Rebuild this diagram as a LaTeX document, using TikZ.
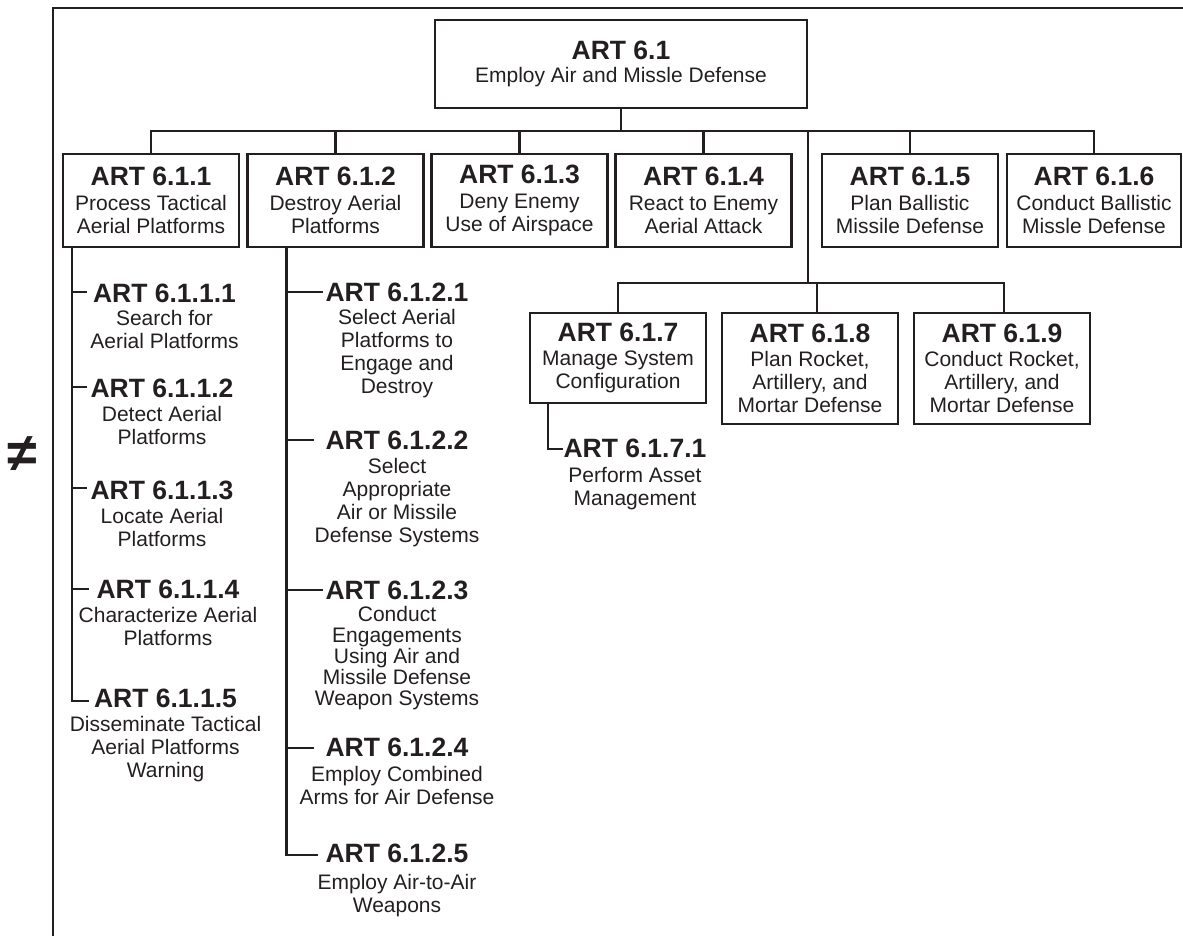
\documentclass[tikz,border=0pt]{standalone}
\usepackage{fontspec}
\setmainfont{Liberation Sans}
\usetikzlibrary{calc}
\definecolor{ink}{HTML}{231F20}
\newcommand\bodyf{\fontsize{21}{23}\selectfont}
\newcommand\titlef{\fontsize{26.5}{27}\selectfont\bfseries}
\begin{document}
\begin{tikzpicture}[x=1pt,y=-1pt,
  box/.style={draw=ink, line width=2.3pt, minimum width=176pt, minimum height=93pt,
    inner sep=0pt, outer sep=0pt, align=center, text=ink, font=\bodyf},
  item/.style={inner sep=0pt, outer sep=0pt, align=center, text=ink, font=\bodyf, anchor=north},
  conn/.style={draw=ink, line width=2.3pt, line cap=rect, line join=miter},
  frame/.style={draw=ink, line width=2.2pt, line cap=rect, line join=miter}]
\useasboundingbox (0,0) rectangle (1183,935);

% frame and mark
\draw[frame] (53,935) -- (53,8) -- (1184,8);
\node[text=ink, font=\fontsize{54}{54}\selectfont\bfseries, inner sep=0pt] (neq) at (22,454) {≠};

% root
\node[box, minimum width=372pt, minimum height=88pt] (root) at (621,64)
  {{\titlef ART 6.1}\\ Employ Air and Missle Defense};

% first level
\node[box] (b611) at (151,200.5)   {{\titlef ART 6.1.1}\\[2pt] Process Tactical\\ Aerial Platforms};
\node[box] (b612) at (335.5,200.5) {{\titlef ART 6.1.2}\\[2pt] Destroy Aerial\\ Platforms};
\node[box] (b613) at (519.5,200.5) {{\titlef ART 6.1.3}\\[2pt] Deny Enemy\\ Use of Airspace};
\node[box] (b614) at (703.5,200.5) {{\titlef ART 6.1.4}\\[2pt] React to Enemy\\ Aerial Attack};
\node[box] (b615) at (910,200.5)   {{\titlef ART 6.1.5}\\[2pt] Plan Ballistic\\ Missile Defense};
\node[box, minimum width=174pt] (b616) at (1094,200.5) {{\titlef ART 6.1.6}\\[2pt] Conduct Ballistic\\ Missle Defense};

% second level (under drop line)
\node[box, minimum height=90pt]  (b617) at (618,358)    {{\titlef ART 6.1.7}\\[1pt] Manage System\\ Configuration};
\node[box, minimum height=111pt] (b618) at (810,368.5)  {{\titlef ART 6.1.8}\\[1pt] Plan Rocket,\\ Artillery, and\\ Mortar Defense};
\node[box, minimum height=111pt] (b619) at (1002,368.5) {{\titlef ART 6.1.9}\\[1pt] Conduct Rocket,\\ Artillery, and\\ Mortar Defense};

% bus connectors
\coordinate (bus) at (621,131);
\coordinate (drop) at (808,131);
\coordinate (subbus) at (808,283);
\draw[conn] (root.south) -- (root.south |- bus);
\draw[conn] (b611.north |- bus) -- (b616.north |- bus);
\foreach \b in {b611,b612,b613,b614,b615,b616}
  \draw[conn] (\b.north) -- (\b.north |- bus);
\draw[conn] (drop) -- (subbus);
\draw[conn] (b617.north |- subbus) -- ([xshift=2pt]b619.north |- subbus);
\draw[conn] (b617.north) -- (b617.north |- subbus);
\draw[conn] ([xshift=7pt]b618.north) -- ([xshift=7pt]b618.north |- subbus);
\draw[conn] ([xshift=2pt]b619.north) -- ([xshift=2pt]b619.north |- subbus);

% sub-items of 6.1.1
\node[item] (i6111) at (164.5,283.5) {{\titlef ART 6.1.1.1}\\ Search for\\ Aerial Platforms};
\node[item] (i6112) at (162,378.5)   {{\titlef ART 6.1.1.2}\\[1pt] Detect Aerial\\ Platforms};
\node[item] (i6113) at (162,480.5)   {{\titlef ART 6.1.1.3}\\[1pt] Locate Aerial\\ Platforms};
\node[item] (i6114) at (168,579.5)   {{\titlef ART 6.1.1.4}\\[1pt] Characterize Aerial\\ Platforms};
\node[item] (i6115) at (165.5,688.5) {{\titlef ART 6.1.1.5}\\[1pt] Disseminate Tactical\\ Aerial Platforms\\ Warning};

\coordinate (sp611) at ($(b611.south west)+(9,0)$);
\coordinate (e6111) at (86,292);
\coordinate (e6112) at (86,387);
\coordinate (e6113) at (86,488);
\coordinate (e6114) at (88,589);
\coordinate (e6115) at (88,701);
\draw[conn] (sp611) |- (e6115);
\foreach \k in {6111,6112,6113,6114}
  \draw[conn] (sp611 |- e\k) -- (e\k);

% sub-items of 6.1.2
\node[item] (i6121) at (397,282.5) {{\titlef ART 6.1.2.1}\\ Select Aerial\\ Platforms to\\ Engage and\\ Destroy};
\node[item] (i6122) at (397,430.5) {{\titlef ART 6.1.2.2}\\[1pt] Select\\ Appropriate\\ Air or Missile\\ Defense Systems};
\node[item, font=\fontsize{21}{21}\selectfont] (i6123) at (397,580.5) {{\titlef ART 6.1.2.3}\\[1pt] Conduct\\ Engagements\\ Using Air and\\ Missile Defense\\ Weapon Systems};
\node[item] (i6124) at (397,737.5) {{\titlef ART 6.1.2.4}\\[2pt] Employ Combined\\ Arms for Air Defense};
\node[item] (i6125) at (397,843.5) {{\titlef ART 6.1.2.5}\\[4pt] Employ Air-to-Air\\ Weapons};

\coordinate (sp612) at ($(b612.south west)+(39,0)$);
\coordinate (e6121) at (322,292);
\coordinate (e6122) at (313,440);
\coordinate (e6123) at (322,590);
\coordinate (e6124) at (313,748);
\coordinate (e6125) at (317,855);
\draw[conn] (sp612) |- (e6125);
\foreach \k in {6121,6122,6123,6124}
  \draw[conn] (sp612 |- e\k) -- (e\k);

% sub-item of 6.1.7
\node[item] (i6171) at (635,438.5) {{\titlef ART 6.1.7.1}\\[2pt] Perform Asset\\ Management};
\coordinate (sp617) at ($(b617.south west)+(18,0)$);
\coordinate (e6171) at (562,449);
\draw[conn] (sp617) |- (e6171);
\end{tikzpicture}
\end{document}
